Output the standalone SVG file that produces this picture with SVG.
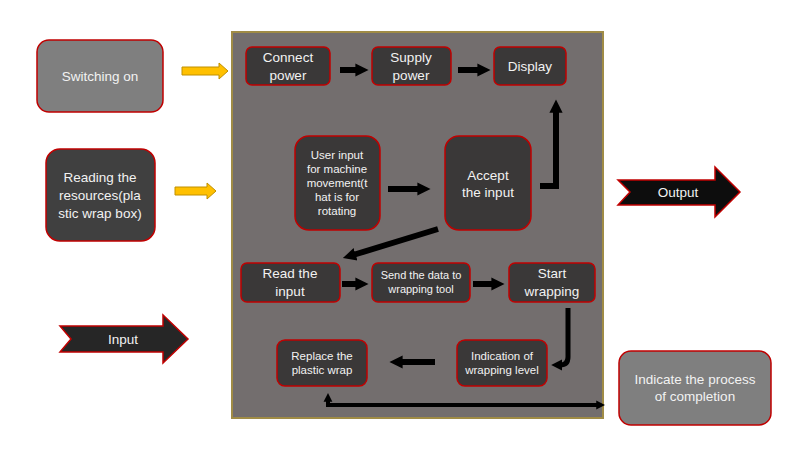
<svg xmlns="http://www.w3.org/2000/svg" width="800" height="450" viewBox="0 0 800 450">
<defs>
<style>
.t{font-family:"Liberation Sans",Arial,sans-serif;fill:#f2f2f2;text-anchor:middle}
.n{stroke:#c00000;stroke-width:1.5}
.dk{fill:#3a3838}
.lt{fill:#7f7f7f}
.c{stroke:#000;stroke-width:6;fill:none}
.y{fill:#ffc000;stroke:#c09000;stroke-width:1}
</style>
<marker id="ah" viewBox="0 0 10 10" refX="2" refY="5" markerWidth="2.2" markerHeight="2.6" orient="auto" markerUnits="strokeWidth">
<path d="M0,0 L10,5 L0,10 Z" fill="#000"/>
</marker>
</defs>
<rect width="800" height="450" fill="#fff"/>
<rect id="panel" x="232" y="32" width="371" height="386" fill="#736e6e" stroke="#a08c46" stroke-width="2"/>

<g id="switching"><rect class="n lt" x="37" y="40" width="126" height="72" rx="12"/><text class="t" x="100" y="81" font-size="13.5">Switching on</text></g>
<g id="reading"><rect class="n" fill="#404040" x="46" y="149" width="109" height="92" rx="14"/><text class="t" font-size="13.5"><tspan x="100" y="182">Reading the</tspan><tspan x="100" y="200">resources(pla</tspan><tspan x="100" y="218">stic wrap box)</tspan></text></g>
<g id="input"><path class="n" fill="#262626" d="M60,326 L163,326 L163,315 L188,339 L163,363 L163,352 L60,352 L71,339 Z"/><text class="t" x="123" y="344" font-size="13.5">Input</text></g>
<g id="output"><path class="n" fill="#0d0d0d" d="M618,180 L715,180 L715,167 L740,192 L715,217 L715,205 L618,205 L630,192 Z"/><text class="t" x="678" y="197" font-size="13.5">Output</text></g>
<g id="indicate"><rect class="n lt" x="619" y="351" width="152" height="74" rx="12"/><text class="t" font-size="13.5"><tspan x="695" y="384">Indicate the process</tspan><tspan x="695" y="401">of completion</tspan></text></g>

<g id="connect"><rect class="n dk" x="246" y="47" width="84" height="38" rx="6"/><text class="t" font-size="13.5"><tspan x="288" y="62">Connect</tspan><tspan x="288" y="80">power</tspan></text></g>
<g id="supply"><rect class="n dk" x="372" y="47" width="79" height="38" rx="6"/><text class="t" font-size="13.5"><tspan x="411" y="62">Supply</tspan><tspan x="411" y="80">power</tspan></text></g>
<g id="display"><rect class="n dk" x="494" y="47" width="72" height="38" rx="6"/><text class="t" x="530" y="71" font-size="13.5">Display</text></g>
<g id="userinput"><rect class="n dk" x="295" y="136" width="85" height="94" rx="14"/><text class="t" font-size="11.5"><tspan x="337" y="159">User input</tspan><tspan x="337" y="173">for machine</tspan><tspan x="337" y="187">movement(t</tspan><tspan x="337" y="201">hat is for</tspan><tspan x="337" y="215">rotating</tspan></text></g>
<g id="accept"><rect class="n dk" x="445" y="136" width="86" height="94" rx="14"/><text class="t" font-size="13.5"><tspan x="488" y="180">Accept</tspan><tspan x="488" y="197">the input</tspan></text></g>
<g id="readinput"><rect class="n dk" x="241" y="263" width="99" height="39" rx="6"/><text class="t" font-size="13.5"><tspan x="290" y="278">Read the</tspan><tspan x="290" y="296">input</tspan></text></g>
<g id="senddata"><rect class="n dk" x="372" y="263" width="98" height="39" rx="6"/><text class="t" font-size="11"><tspan x="421" y="279">Send the data to</tspan><tspan x="421" y="293">wrapping tool</tspan></text></g>
<g id="startwrap"><rect class="n dk" x="509" y="263" width="86" height="39" rx="6"/><text class="t" font-size="13.5"><tspan x="552" y="278">Start</tspan><tspan x="552" y="296">wrapping</tspan></text></g>
<g id="indication"><rect class="n dk" x="457" y="340" width="90" height="46" rx="8"/><text class="t" font-size="11.5"><tspan x="502" y="360">Indication of</tspan><tspan x="502" y="374">wrapping level</tspan></text></g>
<g id="replace"><rect class="n dk" x="277" y="340" width="90" height="46" rx="8"/><text class="t" font-size="11.5"><tspan x="322" y="360">Replace the</tspan><tspan x="322" y="374">plastic wrap</tspan></text></g>

<g id="connectors">
<path class="y" d="M182,67 L219,67 L219,63 L228,71 L219,79 L219,75 L182,75 Z"/>
<path class="y" d="M175,187 L207,187 L207,183 L216,191 L207,199 L207,195 L175,195 Z"/>
<path class="c" d="M340,70 L358,70" marker-end="url(#ah)"/>
<path class="c" d="M458,70 L480,70" marker-end="url(#ah)"/>
<path class="c" d="M540,186 L556,186 L556,110" marker-end="url(#ah)"/>
<path class="c" d="M388,189 L420,189" marker-end="url(#ah)"/>
<path class="c" d="M438,229 L353,255" marker-end="url(#ah)"/>
<path class="c" d="M342,284 L358,284" marker-end="url(#ah)"/>
<path class="c" d="M473,284 L494,284" marker-end="url(#ah)"/>
<path d="M568,308 L568,357 Q568,365 560,365" stroke="#000" stroke-width="5" fill="none" marker-end="url(#ah)"/>
<path class="c" d="M435,362 L400,362" marker-end="url(#ah)"/>
<path d="M328,402 L328,405 L598,405" stroke="#000" stroke-width="4" fill="none" marker-end="url(#ah)"/>
<path d="M328,405 L328,400" stroke="#000" stroke-width="4" fill="none" marker-end="url(#ah)"/>
</g>
</svg>
